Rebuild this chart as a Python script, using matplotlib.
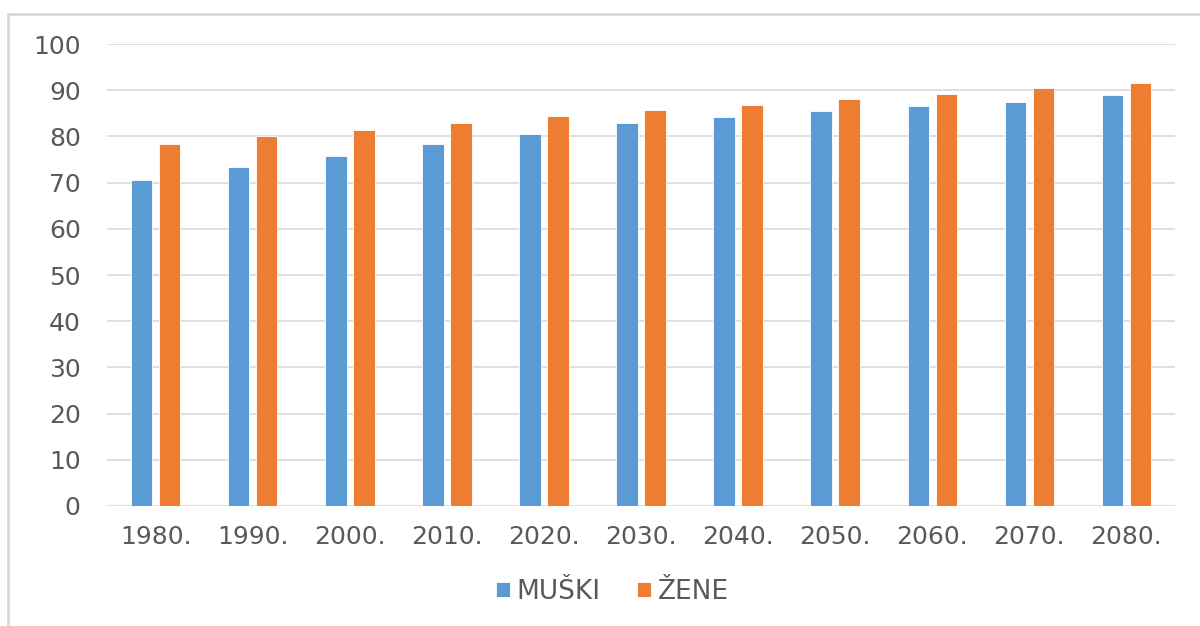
import matplotlib.pyplot as plt
import numpy as np
from matplotlib.lines import Line2D

plt.rcParams['font.family'] = ['DejaVu Sans']

godine = ["1980.", "1990.", "2000.", "2010.", "2020.", "2030.",
          "2040.", "2050.", "2060.", "2070.", "2080."]
muski = [70.6, 73.3, 75.8, 78.4, 80.6, 82.8, 84.3, 85.4, 86.6, 87.5, 89.0]
zene = [78.3, 80.1, 81.3, 83.0, 84.5, 85.7, 86.9, 88.0, 89.2, 90.4, 91.6]

plava = '#5b9bd5'
narandzasta = '#ed7d31'
siva = '#595959'

fig = plt.figure(figsize=(12, 6.26), dpi=100)
ax = fig.add_axes([0.0892, 0.1917, 0.890, 0.738])

x = np.arange(len(godine))
w = 0.222
ax.bar(x - 0.144, muski, w, color=plava, edgecolor='white', linewidth=0.6, label='MUŠKI', zorder=3)
ax.bar(x + 0.144, zene, w, color=narandzasta, edgecolor='white', linewidth=0.6, label='ŽENE', zorder=3)

ax.set_xlim(-0.5, len(godine) - 0.5)
ax.set_ylim(0, 100)
ax.set_yticks(range(0, 101, 10))
ax.set_xticks(x)
ax.set_xticklabels(godine)
ax.yaxis.grid(True, color='#d9d9d9', linewidth=1.2, zorder=0)
ax.tick_params(length=0, labelsize=18, colors=siva)
ax.tick_params(axis='x', pad=14)
ax.tick_params(axis='y', pad=19)
for s in ax.spines.values():
    s.set_visible(False)

ax.legend(loc='center', bbox_to_anchor=(0.473, -0.186), ncol=2, frameon=False,
          fontsize=19, labelcolor=siva, handlelength=0.53, handleheight=0.53,
          handletextpad=0.27, columnspacing=1.36)

# okvir grafikona
fig.add_artist(Line2D([0.007, 1.0], [0.978, 0.978], color='#d9d9d9', linewidth=2))
fig.add_artist(Line2D([0.007, 0.007], [0.0, 0.978], color='#d9d9d9', linewidth=2))

fig.savefig('out.png', dpi=100)
